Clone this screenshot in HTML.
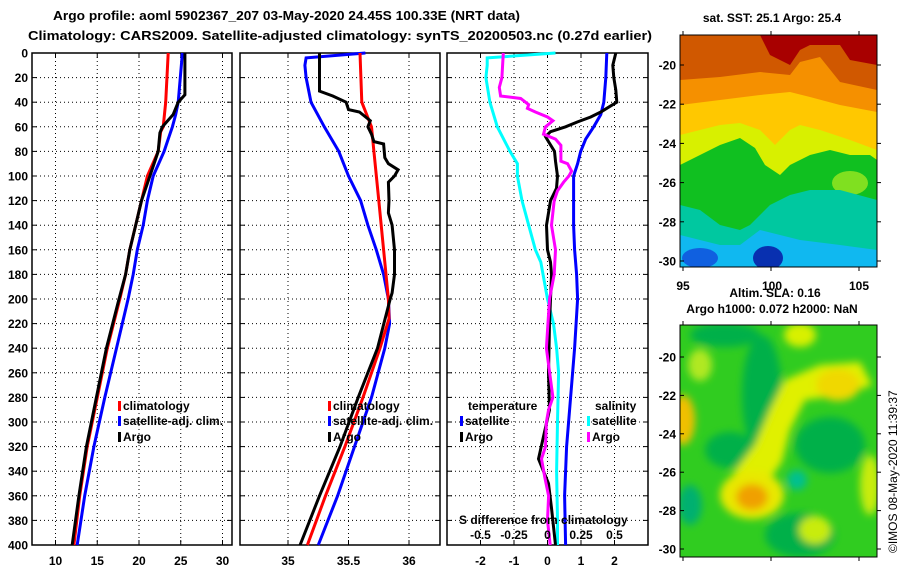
<!DOCTYPE html>
<html><head><meta charset="utf-8"><style>
body{margin:0;background:#fff;}
svg{display:block;font-family:"Liberation Sans",sans-serif;font-weight:bold;}
</style></head><body>
<svg id="c" width="900" height="580" viewBox="0 0 900 580" xmlns="http://www.w3.org/2000/svg">
<defs>
<filter id="blur" x="-20%" y="-20%" width="140%" height="140%"><feGaussianBlur stdDeviation="4"/></filter>
<clipPath id="mapclip1"><rect x="680" y="35" width="197" height="232"/></clipPath>
<clipPath id="mapclip2"><rect x="680" y="325" width="197" height="232"/></clipPath>
</defs>
<text x="53" y="20" font-size="13" textLength="467" lengthAdjust="spacingAndGlyphs">Argo profile: aoml 5902367_207 03-May-2020 24.45S 100.33E (NRT data)</text>
<text x="28" y="40" font-size="13" textLength="624" lengthAdjust="spacingAndGlyphs">Climatology: CARS2009. Satellite-adjusted climatology: synTS_20200503.nc (0.27d earlier)</text>

<!-- SST map -->
<g clip-path="url(#mapclip1)">
<rect x="680" y="35" width="197" height="232" fill="#10c020"/>
<polygon fill="#d8f000" points="680,35 877,35 877,160 870,155 850,155 830,150 810,155 800,160 790,165 780,175 765,165 755,148 740,138 720,145 700,155 680,165"/>
<polygon fill="#ffc800" points="680,35 877,35 877,150 850,140 820,130 800,125 790,130 775,145 760,130 740,123 720,125 700,130 680,135"/>
<polygon fill="#f59000" points="680,35 877,35 877,112 840,105 810,97 790,92 760,95 720,100 680,105"/>
<polygon fill="#d05800" points="680,35 877,35 877,90 840,82 820,57 800,62 790,75 760,72 720,77 680,80"/>
<polygon fill="#a80000" points="760,35 877,35 877,65 850,60 840,45 810,45 800,50 790,65 770,55"/>
<ellipse cx="850" cy="183" rx="18" ry="12" fill="#80e020"/>
<polygon fill="#00c8a0" points="680,267 877,267 877,200 840,190 810,190 790,195 770,205 760,215 750,225 740,230 720,225 700,210 680,205"/>
<polygon fill="#10b8f0" points="680,267 877,267 877,250 840,245 800,240 780,235 760,230 740,245 720,245 700,240 680,235"/>
<ellipse cx="700" cy="258" rx="18" ry="10" fill="#1060e0"/>
<ellipse cx="768" cy="258" rx="15" ry="12" fill="#0830b0"/>
</g>
<rect x="680" y="35" width="197" height="232" fill="none" stroke="#000" stroke-width="1"/>
<text x="772" y="22" font-size="12" text-anchor="middle">sat. SST: 25.1 Argo: 25.4</text>
<g font-size="12">
<text x="683" y="290" text-anchor="middle">95</text><text x="772" y="290" text-anchor="middle">100</text><text x="859" y="290" text-anchor="middle">105</text>
</g>
<text x="775" y="297" font-size="12" text-anchor="middle">Altim. SLA: 0.16</text>
<text x="772" y="313" font-size="12" text-anchor="middle">Argo h1000: 0.072 h2000: NaN</text>

<!-- SLA map -->
<g clip-path="url(#mapclip2)">
<rect x="680" y="325" width="197" height="232" fill="#30cc20"/>
<g filter="url(#blur)">
<ellipse cx="762" cy="395" rx="20" ry="60" fill="#00b048"/>
<ellipse cx="830" cy="445" rx="35" ry="28" fill="#00b048"/>
<ellipse cx="725" cy="335" rx="35" ry="12" fill="#00b048"/>
<ellipse cx="690" cy="505" rx="12" ry="20" fill="#00b070"/>
<ellipse cx="800" cy="535" rx="35" ry="22" fill="#00b048"/>
<ellipse cx="730" cy="450" rx="25" ry="18" fill="#00b048"/>
<polygon fill="#e0f000" points="732,475 755,445 770,410 785,380 820,365 860,362 872,385 845,395 805,400 790,430 782,462 768,482"/>
<ellipse cx="838" cy="385" rx="22" ry="16" fill="#f0d800"/>
<ellipse cx="683" cy="420" rx="12" ry="25" fill="#f0c000"/>
<ellipse cx="752" cy="495" rx="32" ry="24" fill="#e8e800"/>
<ellipse cx="752" cy="497" rx="16" ry="13" fill="#f0a000"/>
<ellipse cx="700" cy="365" rx="12" ry="16" fill="#b0e820"/>
<ellipse cx="800" cy="335" rx="16" ry="12" fill="#d8f000"/>
<ellipse cx="815" cy="530" rx="16" ry="14" fill="#c8ec10"/>
<ellipse cx="870" cy="485" rx="10" ry="30" fill="#c8ec10"/>
<ellipse cx="797" cy="480" rx="10" ry="10" fill="#00c090"/>
</g>
</g>
<rect x="680" y="325" width="197" height="232" fill="none" stroke="#000" stroke-width="1"/>
<text transform="translate(897,553) rotate(-90)" font-size="12" font-weight="normal">©IMOS 08-May-2020 11:39:37</text>

<g id="plots"></g>
</svg>
<script>
// ---- data: temperature panel ----
var depthTicks = [0,20,40,60,80,100,120,140,160,180,200,220,240,260,280,300,320,340,360,380,400];
var tTicks = [10,15,20,25,30];
var sTicks = [35,35.5,36];
var dTicks = [-2,-1,0,1,2];
var sdTickLabels = ['-0.5','-0.25','0','0.25','0.5'];
var sdTickVals = [-0.5,-0.25,0,0.25,0.5];

var tClimDepth = [0,40,60,64,80,100,120,140,160,180,200,240,280,320,360,400];
var tClimVal   = [23.5,23.2,22.9,22.6,22.3,21.0,20.3,19.6,18.9,18.4,17.7,16.2,15.0,13.8,12.9,12.2];
var tSatDepth  = [0,40,50,60,70,80,100,120,140,160,180,200,240,280,320,360,400];
var tSatVal    = [25.2,24.7,24.4,24.0,23.5,23.0,21.7,21.0,20.5,19.8,19.3,18.7,17.3,15.9,14.6,13.5,12.6];
var tArgoDepth = [0,34,40,50,60,65,80,100,120,140,160,180,200,240,280,320,360,400];
var tArgoVal   = [25.5,25.5,24.7,24.1,22.8,22.5,22.3,21.3,20.3,19.6,18.9,18.4,17.6,16.1,14.9,13.7,12.8,12.0];

// ---- data: salinity panel ----
var sClimDepth = [0,40,60,80,120,160,200,216,240,280,320,360,400];
var sClimVal   = [35.595,35.61,35.69,35.71,35.75,35.79,35.83,35.835,35.76,35.62,35.47,35.31,35.16];
var sSatDepth  = [0,4,10,20,40,60,80,100,120,140,160,180,200,220,240,280,320,360,400];
var sSatVal    = [35.64,35.15,35.14,35.15,35.19,35.30,35.42,35.50,35.60,35.66,35.73,35.79,35.83,35.84,35.80,35.69,35.55,35.41,35.25];
var sArgoDepth = [0,31,35,40,46,48,55,60,66,72,74,85,90,95,100,105,120,130,140,160,180,195,200,240,280,320,360,400];
var sArgoVal   = [35.26,35.26,35.37,35.48,35.50,35.59,35.68,35.66,35.69,35.71,35.79,35.80,35.83,35.91,35.88,35.83,35.835,35.83,35.86,35.88,35.88,35.86,35.845,35.74,35.58,35.43,35.26,35.10];

// ---- data: difference panel ----
var dTSatDepth  = [0,20,40,50,60,70,80,90,100,140,160,180,200,240,280,320,360,400];
var dTSatVal    = [1.77,1.74,1.68,1.59,1.38,1.14,0.99,0.90,0.78,0.78,0.81,0.87,0.90,0.81,0.69,0.57,0.51,0.54];
var dTArgoDepth = [0,10,20,30,40,45,48,52,56,60,64,68,72,80,88,100,110,120,130,140,160,170,180,220,260,290,330,350,370,400];
var dTArgoVal   = [2.04,1.95,1.98,2.04,2.07,1.77,1.59,1.29,0.90,0.54,0.09,-0.06,0.03,0.21,0.24,0.30,0.27,0.09,0.03,-0.03,0,0.09,0.12,0.06,0.03,0.06,-0.27,0.03,0.12,0.24];
var dSSatDepth  = [0,4,10,20,40,60,80,90,100,120,140,160,170,200,220,240,260,300,340,380,400];
var dSSatVal    = [0.06,-0.45,-0.45,-0.46,-0.43,-0.375,-0.28,-0.225,-0.225,-0.19,-0.14,-0.09,-0.05,0,0.045,0.068,0.083,0.075,0.068,0.075,0.075];
var dSArgoDepth = [0,20,28,35,37,42,45,48,52,55,60,66,70,75,88,90,96,100,105,112,120,140,160,180,200,240,280,290,300,320,330,345,360,380,400];
var dSArgoVal   = [-0.33,-0.34,-0.36,-0.35,-0.20,-0.14,-0.15,-0.09,0,0.04,-0.015,-0.03,0.06,0.1,0.1,0.15,0.18,0.16,0.12,0.075,0.05,0.03,0.06,0.05,0.015,-0.008,0.04,0.008,-0.008,-0.015,-0.045,-0.02,0.008,0,0.02];

var NS='http://www.w3.org/2000/svg';
var root=document.getElementById('plots');
function mk(tag,attrs,parent){var e=document.createElementNS(NS,tag);for(var k in attrs)e.setAttribute(k,attrs[k]);(parent||root).appendChild(e);return e;}
var Y0=53,Y1=545;
function yD(d){return Y0+(d/400)*(Y1-Y0);}
function lin(d0,d1,r0,r1){return function(v){return r0+(v-d0)/(d1-d0)*(r1-r0);};}

var panels=[
 {name:'temperature-panel',x0:32,x1:232,x:lin(10,30,55.5,222.5),ticks:tTicks,yl:true},
 {name:'salinity-panel',x0:240,x1:440,x:lin(35,36,288,409),ticks:sTicks,yl:false},
 {name:'difference-panel',x0:447,x1:648,x:lin(-3,3,447,648),ticks:dTicks,yl:false}
];
panels.forEach(function(p){
  var g=mk('g',{});
  
  
  depthTicks.forEach(function(d){
    var y=yD(d);
    if(d>0&&d<400){var l=mk('line',{x1:p.x0,x2:p.x1,y1:y,y2:y,stroke:'#000','stroke-width':1,'stroke-dasharray':'1,3'},g);
      }
    mk('line',{x1:p.x0,x2:p.x0+5,y1:y,y2:y,stroke:'#000','stroke-width':1},g);
    mk('line',{x1:p.x1-5,x2:p.x1,y1:y,y2:y,stroke:'#000','stroke-width':1},g);
    if(p.yl){var t=mk('text',{x:28,y:y+4.5,'font-size':12,'text-anchor':'end'},g);t.textContent=String(d);
      }
  });
  p.ticks.forEach(function(v){
    var x=p.x(v);
    var l=mk('line',{x1:x,x2:x,y1:Y0,y2:Y1,stroke:'#000','stroke-width':1,'stroke-dasharray':'1,3'},g);
    
    mk('line',{x1:x,x2:x,y1:Y0,y2:Y0+5,stroke:'#000'},g);
    mk('line',{x1:x,x2:x,y1:Y1-5,y2:Y1,stroke:'#000'},g);
    var t=mk('text',{x:x,y:565,'font-size':12,'text-anchor':'middle'},g);t.textContent=String(v);
    
  });
  var r=mk('rect',{x:p.x0,y:Y0,width:p.x1-p.x0,height:Y1-Y0,fill:'none',stroke:'#000','stroke-width':1.5},g);
  
  p.g=g;
});
function series(p,depths,vals,color,name,scale){
  var pts=depths.map(function(d,i){return p.x(vals[i]*(scale||1)).toFixed(1)+','+yD(d).toFixed(1);}).join(' ');
  var e=mk('polyline',{points:pts,fill:'none',stroke:color,'stroke-width':3,'stroke-linejoin':'miter'},p.g);
  
  
}
series(panels[0],tSatDepth,tSatVal,'#0000ff','temp-satellite-clim-line');
series(panels[0],tClimDepth,tClimVal,'#ff0000','temp-climatology-line');
series(panels[0],tArgoDepth,tArgoVal,'#000000','temp-argo-line');
series(panels[1],sSatDepth,sSatVal,'#0000ff','sal-satellite-clim-line');
series(panels[1],sClimDepth,sClimVal,'#ff0000','sal-climatology-line');
series(panels[1],sArgoDepth,sArgoVal,'#000000','sal-argo-line');
series(panels[2],dSSatDepth,dSSatVal,'#00ffff','sdiff-satellite-line',4);
series(panels[2],dTSatDepth,dTSatVal,'#0000ff','tdiff-satellite-line');
series(panels[2],dTArgoDepth,dTArgoVal,'#000000','tdiff-argo-line');
series(panels[2],dSArgoDepth,dSArgoVal,'#ff00ff','sdiff-argo-line',4);

function legend(x,y,color,label,name,g){
  var lg=mk('g',{},g);
  
  
  if(color) mk('rect',{x:x,y:y-9,width:3,height:10,fill:color},lg);
  var t=mk('text',{x:x+5,y:y,'font-size':12},lg);t.textContent=label;
}
legend(118,410,'#ff0000','climatology','legend-climatology',panels[0].g);
legend(118,425,'#0000ff','satellite-adj. clim.','legend-satellite-adj-clim',panels[0].g);
legend(118,441,'#000000','Argo','legend-argo',panels[0].g);
legend(328,410,'#ff0000','climatology','legend-climatology-sal',panels[1].g);
legend(328,425,'#0000ff','satellite-adj. clim.','legend-satellite-adj-clim-sal',panels[1].g);
legend(328,441,'#000000','Argo','legend-argo-sal',panels[1].g);
legend(463,410,null,'temperature','legend-temperature-heading',panels[2].g);
legend(460,425,'#0000ff','satellite','legend-temp-satellite',panels[2].g);
legend(460,441,'#000000','Argo','legend-temp-argo',panels[2].g);
legend(590,410,null,'salinity','legend-salinity-heading',panels[2].g);
legend(587,425,'#00ffff','satellite','legend-sal-satellite',panels[2].g);
legend(587,441,'#ff00ff','Argo','legend-sal-argo',panels[2].g);
var st=mk('text',{x:459,y:524,'font-size':12},panels[2].g);st.textContent='S difference from climatology';


sdTickVals.forEach(function(v,i){
  var t=mk('text',{x:panels[2].x(v*4),y:539,'font-size':12,'text-anchor':'middle'},panels[2].g);
  t.textContent=sdTickLabels[i];
  
  
});
// map lat labels (left side of maps)
var latTicks=[-20,-22,-24,-26,-28,-30];
var mapLat1=lin(-20,-30,65,261), mapLat2=lin(-20,-30,357,549);
var svg=document.getElementById('c');
latTicks.forEach(function(v){
  [[mapLat1,'sst-lat-label'],[mapLat2,'sla-lat-label']].forEach(function(m){
    var y=m[0](v);
    var t=mk('text',{x:676,y:y+4.5,'font-size':12,'text-anchor':'end'},svg);t.textContent=String(v);
    
    
    mk('line',{x1:877,x2:881,y1:y,y2:y,stroke:'#000'},svg);
    mk('line',{x1:680,x2:684,y1:y,y2:y,stroke:'#000'},svg);
  });
});
var lonTicks=[95,100,105];var mapLon=lin(95,105,683,859);
lonTicks.forEach(function(v){var x=mapLon(v);
  mk('line',{x1:x,x2:x,y1:267,y2:271,stroke:'#000'},svg);mk('line',{x1:x,x2:x,y1:35,y2:31,stroke:'#000'},svg);
  mk('line',{x1:x,x2:x,y1:557,y2:561,stroke:'#000'},svg);mk('line',{x1:x,x2:x,y1:325,y2:321,stroke:'#000'},svg);});
</script>
</body></html>
